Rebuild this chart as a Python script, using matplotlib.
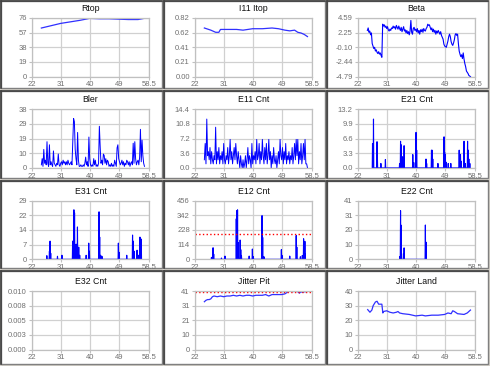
import numpy as np
import matplotlib
matplotlib.use("Agg")
import matplotlib.pyplot as plt
from matplotlib.patches import Rectangle

# ---- data ----
rtop_x = [25, 28, 31, 34, 37, 40, 43, 46, 49, 52, 55, 57.5]
rtop_y = [63, 66, 69, 71, 73, 75.5, 75, 75, 74.5, 74, 74, 76]

itop_x = [25, 27, 28.5, 29.5, 30, 32, 35, 37, 40, 43, 46, 48, 50, 51.5, 53, 54, 55, 56, 57]
itop_y = [0.68, 0.65, 0.62, 0.62, 0.66, 0.66, 0.66, 0.65, 0.67, 0.67, 0.68, 0.67,
          0.65, 0.64, 0.65, 0.62, 0.61, 0.59, 0.56]

# sample times for the dense series (every 0.25)
t = np.arange(25, 57.01, 0.25)

beta = [2.6, 3.0, 2.3, 2.5, 1.9, 2.2, 0.5, 0.1,
        -0.3, -0.1, -0.7, -0.5, -0.9, -1.1, -0.8, -1.2,
        -1.0, -1.4, -1.7, 3.6, 3.3, 3.5, 3.1, 3.3,
        2.9, 3.2, 2.7, 2.5, 2.8, 2.6, 3.0, 2.9,
        3.3, 3.0, 3.2, 2.8, 3.4, 3.1, 2.8, 3.3,
        2.9, 2.6, 3.1, 2.4, 2.8, 3.2, 2.5, 2.7,
        2.2, 2.6, 2.1, 2.4, 1.9, 2.5, 4.2, 2.3,
        2.0, 2.9, 3.1, 2.6, 2.8, 2.4, 2.9, 2.2,
        2.6, 2.0, 2.7, 2.4, 2.8, 2.3, 2.9, 2.6,
        2.5, 2.9, 3.1, 3.6, 3.4, 3.5, 3.1, 2.7,
        3.0, 2.4, 2.8, 2.3, 2.6, 2.0, 2.5, 2.2,
        2.6, 2.3, 2.0, 2.4, 1.8, 1.5, 1.2, 0.4,
        0.1, 0.0, -0.1, 0.4, 0.9, 1.6, 2.0, 1.6,
        0.8, 0.4, 0.2, 0.6, 1.1, 1.9, 2.1, 1.8,
        2.0, 0.5, -0.7, -1.2, -1.6, -1.3, -1.9, -1.0,
        -2.0, -2.7, -3.2, -3.9, -4.1, -4.3, -4.6, -4.7,
        -4.8]

bler = [2, 6, 1, 12, 3, 5, 2, 17,
        3, 1, 15, 2, 4, 2, 1, 11,
        3, 2, 1, 3, 2, 9, 2, 1,
        3, 4, 2, 5, 3, 4, 2, 4,
        2, 5, 3, 2, 3, 4, 2, 18,
        32, 30, 12, 6, 2, 23, 5, 1,
        1, 2, 1, 1, 2, 1, 3, 7,
        2, 4, 1, 20, 6, 2, 1, 2,
        1, 6, 2, 5, 1, 2, 1, 3,
        27, 14, 3, 5, 2, 9, 8, 3,
        6, 2, 5, 4, 1, 2, 1, 3,
        1, 2, 1, 5, 3, 1, 13, 15,
        6, 4, 2, 3, 5, 2, 4, 1,
        3, 2, 5, 4, 2, 4, 1, 3,
        4, 2, 16, 3, 17, 6, 2, 4,
        5, 2, 7, 25, 4, 18, 8, 3,
        1]

e11 = [2, 6, 1, 12, 3, 4, 2, 5,
       1, 4, 2, 1, 3, 2, 10, 1,
       4, 2, 5, 1, 3, 2, 4, 1,
       6, 2, 1, 3, 2, 5, 1, 3,
       7, 2, 4, 1, 3, 5, 2, 6,
       3, 1, 4, 2, 0, 3, 1, 0,
       2, 0, 1, 3, 0, 2, 5, 1,
       3, 2, 0, 6, 1, 3, 2, 4,
       1, 7, 2, 3, 6, 1, 4, 2,
       7, 3, 1, 5, 2, 6, 1, 3,
       7, 2, 4, 0, 3, 1, 5, 2,
       1, 3, 0, 2, 4, 1, 7, 3,
       2, 5, 1, 4, 2, 6, 1, 3,
       2, 4, 1, 3, 2, 5, 1, 3,
       6, 2, 7, 3, 7, 1, 4, 2,
       6, 1, 3, 6, 2, 7, 1, 1,
       0]

e21_x = [26.6, 26.9, 28.0, 28.1, 29.2, 30.6, 35.0, 35.3, 35.5, 35.9, 36.4, 39.1, 39.4,
         40.1, 40.3, 43.2, 43.4, 44.9, 45.1, 45.3, 46.9, 48.8, 49.0, 49.2, 49.4, 50.1,
         50.9, 53.5, 53.7, 53.9, 54.1, 55.0, 55.4, 56.1, 56.3, 56.5, 56.8]
e21_y = [5.5, 11, 5.9, 2.9, 1, 1.9, 1, 6, 5.2, 2.5, 5, 3, 1.2,
         8, 4, 2, 1, 4, 4, 2, 1, 7, 3.5, 3, 1.3, 1,
         1, 4, 2, 3, 1.5, 6, 1, 6, 4, 2, 1]

e31_x = [26.7, 27.5, 27.7, 27.9, 30.0, 31.4, 34.7, 35.1, 35.3, 35.8, 36.2, 36.6, 36.9,
         38.9, 39.7, 39.9, 42.9, 43.1, 43.4, 43.8, 48.9, 49.1, 51.5, 53.3, 53.5, 53.8,
         54.7, 55.2, 55.6, 55.8, 55.9, 56.0]
e31_y = [1.8, 4, 9, 3, 1.5, 2, 9, 24.5, 23, 7.5, 16, 6, 2,
         2, 8, 4, 23.5, 11, 2, 1.5, 8, 3.5, 2, 12, 9, 4,
         4.5, 2, 11, 9, 5, 10]

e12_x = [27.2, 27.7, 27.9, 30.3, 31.4, 34.9, 35.1, 35.3, 35.5, 36.1, 36.3, 36.5,
         38.9, 39.9, 40.2, 42.9, 43.1, 43.5, 48.9, 49.1, 51.5, 53.5, 53.7,
         54.8, 55.4, 55.8, 55.9, 56.0, 56.2, 56.3]
e12_y = [15, 90, 40, 10, 25, 315, 380, 385, 130, 150, 75, 30,
         25, 80, 20, 340, 170, 20, 75, 30, 25, 185, 95,
         20, 30, 160, 120, 80, 140, 40]
e12_limit = 200

e22_x = [35.1, 35.3, 35.4, 36.2, 36.4, 43.0, 43.2]
e22_y = [2, 34, 24, 4, 8, 24, 12]

jpit_x = [25, 25.5, 26, 26.5, 27, 27.5, 28, 29, 30, 31, 32, 33, 34, 35, 36, 37, 38, 39,
          40, 41, 42, 43, 44, 45, 46, 47, 48, 49, 50, 51, 52, 52.5, 53, 54, 54.5, 55,
          55.5, 56, 56.5]
jpit_y = [33.5, 34.5, 35, 35, 35.5, 37, 37.5, 37, 37.5, 37, 37.5, 37.5, 38, 37.5, 38,
          37.5, 38, 38, 37.5, 38, 38, 38, 38.5, 37.5, 38.5, 38.5, 38.5, 38.5, 39, 40.5,
          41, 40.5, 41, 40.5, 39.5, 40.5, 40, 40.5, 40.5]
jpit_limit = 40

jland_x = [25.1, 25.8, 26.4, 26.8, 27.5, 28, 28.5, 29.5, 29.8, 30, 31, 32, 33, 34,
           34.5, 35, 36, 38, 40, 42, 43, 45, 47, 49, 50, 51, 51.5, 52, 53, 55, 56, 57]
jland_y = [27.3, 25.5, 27, 30, 32.5, 33, 31, 31, 25, 26, 26.5, 25.5, 25, 25.5,
           26, 25, 24.5, 24, 23, 23.5, 23, 23.5, 23.5, 24, 25, 24.5, 26.5, 26, 24.5,
           24, 25, 27]

titles = ["Rtop", "I11 Itop", "Beta", "Bler", "E11 Cnt", "E21 Cnt",
          "E31 Cnt", "E12 Cnt", "E22 Cnt", "E32 Cnt", "Jitter Pit", "Jitter Land"]
yranges = [(0, 76), (0, 0.82), (-4.79, 4.59), (0, 38), (0, 14.4), (0, 13.2),
           (0, 29), (0, 456), (0, 41), (0, 0.010), (0, 41), (0, 40)]
ylabels = [["0", "19", "38", "57", "76"],
           ["0.00", "0.21", "0.41", "0.62", "0.82"],
           ["-4.79", "-2.44", "-0.10", "2.25", "4.59"],
           ["0", "10", "19", "29", "38"],
           ["0.0", "3.6", "7.2", "10.8", "14.4"],
           ["0.0", "3.3", "6.6", "9.9", "13.2"],
           ["0", "7", "14", "22", "29"],
           ["0", "114", "228", "342", "456"],
           ["0", "10", "20", "31", "41"],
           ["0.000", "0.003", "0.005", "0.008", "0.010"],
           ["0", "10", "21", "31", "41"],
           ["0", "10", "20", "30", "40"]]
xticks = [22, 31, 40, 49, 58.5]
xlabels = ["22", "31", "40", "49", "58.5"]

# ---- layout (pixels) ----
W, H = 490, 366
BG = "#d4d0c8"
GRID = "#d0d0d0"
BLUE = "#0000ff"
LBLUE = "#3030ff"

col_panel = [1, 164, 327]
row_panel = [1, 91, 181, 271]
col_ax = [31.7, 194.7, 357.7]
row_ax = [18, 109.3, 200.7, 291]
ax_w, ax_h = 117.6, 58.6

plt.rcParams['font.family'] = ['Liberation Sans', 'DejaVu Sans']
fig = plt.figure(figsize=(W / 100, H / 100), dpi=100, facecolor=BG)


def spikes(xs, hs, w=0.09):
    px, py = [], []
    for x, h in zip(xs, hs):
        px += [x - w, x, x + w]
        py += [0, h, 0]
    return px, py


axes = []
for i in range(12):
    r, c = divmod(i, 3)
    ph = 87 if r < 3 else 93
    fig.add_artist(Rectangle((col_panel[c] / W, 1 - (row_panel[r] + ph) / H),
                             161 / W, ph / H, transform=fig.transFigure,
                             facecolor="white", edgecolor="#808080", lw=1, zorder=-3))
    fig.add_artist(plt.Line2D([col_panel[c] / W, (col_panel[c] + 161) / W],
                              [1 - row_panel[r] / H] * 2, color="#404040", lw=1.2,
                              zorder=-2))
    fig.add_artist(plt.Line2D([col_panel[c] / W] * 2,
                              [1 - row_panel[r] / H, 1 - (row_panel[r] + ph) / H],
                              color="#404040", lw=1.2, zorder=-2))
    ax = fig.add_axes([col_ax[c] / W, 1 - (row_ax[r] + ax_h) / H, ax_w / W, ax_h / H])
    ax.set_facecolor("white")
    lo, hi = yranges[i]
    ax.set_xlim(22, 58.5)
    ax.set_ylim(lo, hi)
    ax.set_xticks(xticks)
    ax.set_xticklabels(xlabels)
    ax.set_yticks(np.linspace(lo, hi, 5))
    ax.set_yticklabels(ylabels[i])
    ax.grid(True, color=GRID, lw=0.9)
    ax.set_axisbelow(True)
    for s in ax.spines.values():
        s.set_color("#c0c0c0")
        s.set_linewidth(0.9)
    ax.tick_params(length=2, width=0.8, color="#c0c0c0", labelsize=5.5,
                   labelcolor="#707070", pad=1.5)
    fig.text((col_ax[c] + ax_w / 2) / W, 1 - (row_ax[r] - 9.5) / H, titles[i],
             ha="center", va="center", fontsize=6.3, color="#101010")
    axes.append(ax)

axes[0].plot(rtop_x, rtop_y, color=LBLUE, lw=0.9)
axes[1].plot(itop_x, itop_y, color=LBLUE, lw=0.9)
axes[2].plot(t, beta, color=BLUE, lw=0.8)
axes[3].plot(t, bler, color=BLUE, lw=0.7)
axes[4].plot(t, e11, color=BLUE, lw=0.7)
axes[5].plot(*spikes(e21_x, e21_y), color=BLUE, lw=0.8)
axes[6].plot(*spikes(e31_x, e31_y), color=BLUE, lw=0.8)
axes[7].plot(*spikes(e12_x, e12_y), color=BLUE, lw=0.8)
axes[7].axhline(e12_limit, color="#ff0000", ls=":", lw=1)
axes[8].plot(*spikes(e22_x, e22_y), color=BLUE, lw=0.8)
axes[10].plot(jpit_x, jpit_y, color=LBLUE, lw=0.9)
axes[10].axhline(jpit_limit, color="#ff0000", ls=":", lw=1)
axes[11].plot(jland_x, jland_y, color=LBLUE, lw=0.9)

fig.savefig("out.png", dpi=100, facecolor=BG)
